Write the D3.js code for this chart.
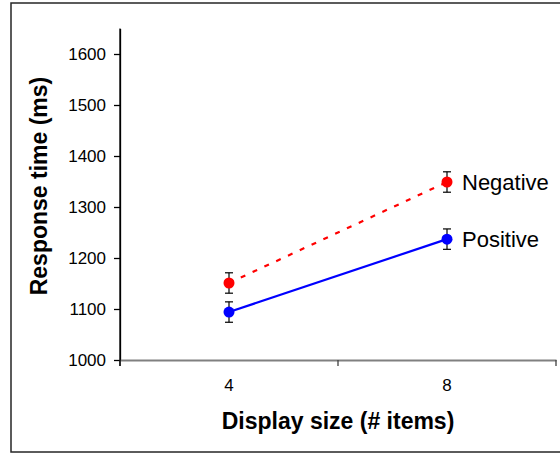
<!DOCTYPE html>
<html>
<head>
<meta charset="utf-8">
<script src="https://cdn.jsdelivr.net/npm/d3@7"></script>
<style>
  body { margin: 0; background: #fff; }
  svg { display: block; }
  svg text { font-family: "Liberation Sans", Arial, sans-serif; }
</style>
</head>
<body>
<div id="chart"></div>
<script>
// values
var categories = ["4", "8"];
var seriesNames = ["Negative", "Positive"];
var negative = [1151, 1349];
var negativeErr = [20, 20];
var positive = [1094, 1237];
var positiveErr = [20, 20];
var yTicks = [1000, 1100, 1200, 1300, 1400, 1500, 1600];

(function(d3) {
  'use strict';
  var width = 560, height = 454;
  var svg = d3.select('#chart').append('svg')
    .attr('width', width)
    .attr('height', height);

  // outer frame
  svg.append('rect')
    .attr('x', 11).attr('y', 3)
    .attr('width', 570).attr('height', 449)
    .attr('fill', 'none')
    .attr('stroke', '#262626')
    .attr('stroke-width', 1.5);

  var x = d3.scaleBand().domain(categories).range([120, 556]).padding(0);
  var y = d3.scaleLinear().domain([1000, 1650]).range([360, 28.5]);

  // y axis
  var yAxis = svg.append('g')
    .attr('transform', 'translate(120,0)')
    .call(d3.axisLeft(y).tickValues(yTicks).tickFormat(d3.format('d'))
      .tickSize(6).tickPadding(8).tickSizeOuter(0));
  yAxis.select('.domain').attr('stroke', '#000').attr('stroke-width', 1.3);
  yAxis.selectAll('.tick line').attr('stroke', '#000').attr('stroke-width', 1.3);
  yAxis.selectAll('.tick text')
    .attr('font-size', 17).attr('fill', '#000');

  // x axis (labels centred in bands, ticks on band edges)
  var xAxis = svg.append('g')
    .attr('transform', 'translate(0,360)')
    .call(d3.axisBottom(x).tickSize(0).tickPadding(19).tickSizeOuter(0));
  xAxis.select('.domain').attr('stroke', '#808080').attr('stroke-width', 2);
  xAxis.selectAll('.tick text')
    .attr('font-size', 17).attr('fill', '#000');
  var edges = categories.map(function(c) { return x(c); });
  edges.push(x(categories[categories.length - 1]) + x.bandwidth());
  xAxis.selectAll('.edge').data(edges).enter().append('line')
    .attr('class', 'edge')
    .attr('x1', function(d) { return d; }).attr('x2', function(d) { return d; })
    .attr('y1', 0).attr('y2', 6)
    .attr('stroke', '#404040').attr('stroke-width', 1.3);
  // redraw y axis line over x axis line
  svg.append('line')
    .attr('x1', 120).attr('x2', 120).attr('y1', y(1650)).attr('y2', 366)
    .attr('stroke', '#000').attr('stroke-width', 1.3);

  // axis titles
  svg.append('text')
    .attr('x', 338).attr('y', 429)
    .attr('text-anchor', 'middle')
    .attr('font-size', 23).attr('font-weight', 'bold')
    .text('Display size (# items)');
  svg.append('text')
    .attr('transform', 'translate(47,186) rotate(-90)')
    .attr('text-anchor', 'middle')
    .attr('font-size', 23).attr('font-weight', 'bold')
    .text('Response time (ms)');

  var series = [
    { name: seriesNames[0], values: negative, err: negativeErr, color: '#ff0000', dash: '5,8' },
    { name: seriesNames[1], values: positive, err: positiveErr, color: '#0000ff', dash: null }
  ];

  var cx = function(i) { return x(categories[i]) + x.bandwidth() / 2; };
  var line = d3.line()
    .x(function(d, i) { return cx(i); })
    .y(function(d) { return y(d); });

  series.forEach(function(s) {
    var g = svg.append('g');
    g.append('path')
      .attr('d', line(s.values))
      .attr('fill', 'none')
      .attr('stroke', s.color)
      .attr('stroke-width', 2.2)
      .attr('stroke-dasharray', s.dash);

    var eb = g.selectAll('.err').data(s.values).enter().append('g').attr('class', 'err');
    eb.append('line')
      .attr('x1', function(d, i) { return cx(i); })
      .attr('x2', function(d, i) { return cx(i); })
      .attr('y1', function(d, i) { return y(d - s.err[i]); })
      .attr('y2', function(d, i) { return y(d + s.err[i]); })
      .attr('stroke', '#000').attr('stroke-width', 1.2);
    [1, -1].forEach(function(sign) {
      eb.append('line')
        .attr('x1', function(d, i) { return cx(i) - 4; })
        .attr('x2', function(d, i) { return cx(i) + 4; })
        .attr('y1', function(d, i) { return y(d + sign * s.err[i]); })
        .attr('y2', function(d, i) { return y(d + sign * s.err[i]); })
        .attr('stroke', '#000').attr('stroke-width', 1.2);
    });

    g.selectAll('circle').data(s.values).enter().append('circle')
      .attr('cx', function(d, i) { return cx(i); })
      .attr('cy', function(d) { return y(d); })
      .attr('r', 5.5)
      .attr('fill', s.color);

    var last = s.values.length - 1;
    g.append('text')
      .attr('x', cx(last) + 15)
      .attr('y', y(s.values[last]) + 8)
      .attr('font-size', 22)
      .text(s.name);
  });
})(window.d3);
</script>
</body>
</html>
